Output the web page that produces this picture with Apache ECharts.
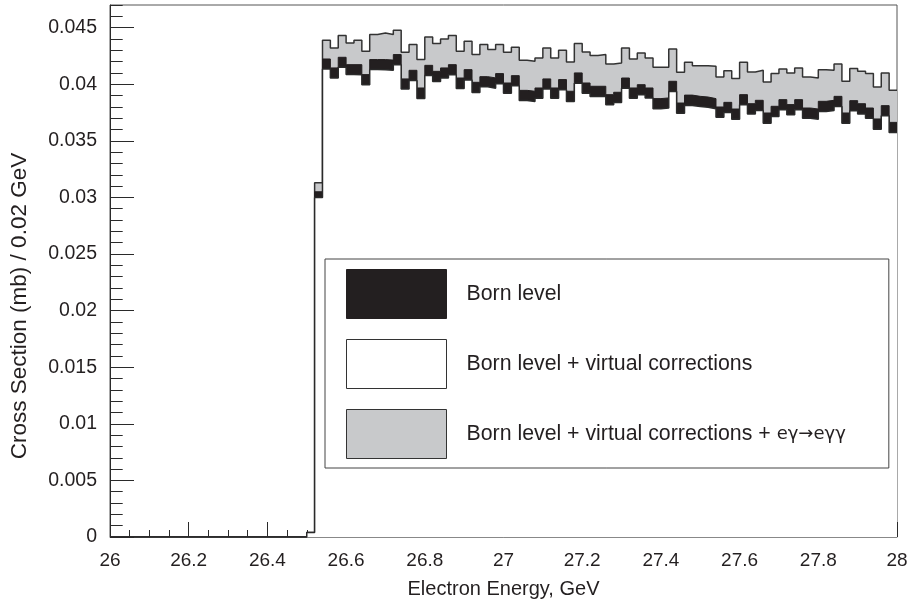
<!DOCTYPE html>
<html>
<head>
<meta charset="utf-8">
<script src="https://cdn.jsdelivr.net/npm/echarts@6/dist/echarts.min.js"></script>
<style>
html,body{margin:0;padding:0;background:#fff;}
#chart{width:909px;height:605px;}
</style>
</head>
<body>
<div id="chart"></div>
<script>
// ---- data ----
const binStart = 26.0;
const binWidth = 0.02;
const binEnd = 28.0;
const xTickLabels = ['26', '26.2', '26.4', '26.6', '26.8', '27', '27.2', '27.4', '27.6', '27.8', '28'];
const yTickLabels = ['0', '0.005', '0.01', '0.015', '0.02', '0.025', '0.03', '0.035', '0.04', '0.045'];
const seriesNames = ['Born level', 'Born level + virtual corrections', 'Born level + virtual corrections + eγ→eγγ'];

// Born level + virtual corrections + e gamma -> e gamma gamma (grey)
const bornVirtEgg = [
  0,0,0,0,0,0,0,0,0,0, 0,0,0,0,0,0,0,0,0,0, 0,0,0,0,0,
  0.0004, 0.0313,
  0.04388, 0.04321, 0.04430, 0.04365, 0.04388, 0.04291, 0.04439, 0.04453, 0.04439, 0.04477,
  0.04282, 0.04350, 0.04218, 0.04418, 0.04359, 0.04400, 0.04430, 0.04291, 0.04380, 0.04262,
  0.04350, 0.04306, 0.04350, 0.04282, 0.04327, 0.04212, 0.04203, 0.04232, 0.04321, 0.04232,
  0.04300, 0.04197, 0.04359, 0.04285, 0.04253, 0.04262, 0.04179, 0.04188, 0.04321, 0.04223,
  0.04276, 0.04232, 0.04150, 0.04150, 0.04312, 0.04106, 0.04194, 0.04164, 0.04164, 0.04159,
  0.04064, 0.04120, 0.04050, 0.04194, 0.04109, 0.04123, 0.04020, 0.04094, 0.04135, 0.04100,
  0.04144, 0.04064, 0.04055, 0.04129, 0.04123, 0.04179, 0.04026, 0.04138, 0.04114, 0.04094,
  0.03976, 0.04100, 0.03946
];
// Born level (black)
const born = [
  0,0,0,0,0,0,0,0,0,0, 0,0,0,0,0,0,0,0,0,0, 0,0,0,0,0,
  0.0004, 0.0305,
  0.04223, 0.04144, 0.04238, 0.04173, 0.04173, 0.04085, 0.04218, 0.04218, 0.04213, 0.04262,
  0.04047, 0.04123, 0.03967, 0.04167, 0.04114, 0.04144, 0.04173, 0.04055, 0.04129, 0.04017,
  0.04067, 0.04056, 0.04094, 0.04011, 0.04076, 0.03946, 0.03938, 0.03967, 0.04047, 0.03967,
  0.04041, 0.03938, 0.04100, 0.04011, 0.03982, 0.03982, 0.03908, 0.03929, 0.04055, 0.03967,
  0.03996, 0.03967, 0.03873, 0.03879, 0.04026, 0.03834, 0.03904, 0.03893, 0.03887, 0.03873,
  0.03799, 0.03840, 0.03781, 0.03908, 0.03828, 0.03858, 0.03746, 0.03805, 0.03864, 0.03820,
  0.03864, 0.03790, 0.03781, 0.03849, 0.03858, 0.03893, 0.03746, 0.03855, 0.03828, 0.03790,
  0.03693, 0.03811, 0.03663
];
// Born level + virtual corrections (white)
const bornVirt = [
  0,0,0,0,0,0,0,0,0,0, 0,0,0,0,0,0,0,0,0,0, 0,0,0,0,0,
  0.0004, 0.0300,
  0.04135, 0.04055, 0.04150, 0.04085, 0.04084, 0.03995, 0.04130, 0.04128, 0.04124, 0.04172,
  0.03957, 0.04033, 0.03874, 0.04077, 0.04024, 0.04055, 0.04083, 0.03963, 0.04038, 0.03926,
  0.03978, 0.03965, 0.04005, 0.03920, 0.03986, 0.03856, 0.03848, 0.03877, 0.03957, 0.03876,
  0.03951, 0.03848, 0.04009, 0.03920, 0.03892, 0.03893, 0.03818, 0.03839, 0.03965, 0.03877,
  0.03906, 0.03878, 0.03783, 0.03789, 0.03936, 0.03743, 0.03813, 0.03803, 0.03797, 0.03783,
  0.03709, 0.03750, 0.03691, 0.03818, 0.03738, 0.03768, 0.03656, 0.03715, 0.03774, 0.03730,
  0.03774, 0.03700, 0.03691, 0.03759, 0.03768, 0.03803, 0.03656, 0.03765, 0.03738, 0.03700,
  0.03603, 0.03721, 0.03573
];

// histogram -> step points (left edges + closing right edge)
function histPoints(vals) {
  const pts = vals.map((v, i) => [+(binStart + i * binWidth).toFixed(2), v]);
  pts.push([binEnd, vals[vals.length - 1]]);
  return pts;
}

const FONT = '"Liberation Sans", Arial, Helvetica, sans-serif';
const TXT = '#231f20';
const DARK = '#2a2a2a';

const chart = echarts.init(document.getElementById('chart'), null, { renderer: 'canvas' });

const option = {
  animation: false,
  backgroundColor: '#ffffff',
  textStyle: { fontFamily: FONT },
  grid: {
    left: 110, right: 12, top: 5, bottom: 68,
    show: true, borderColor: '#555', borderWidth: 1,
    containLabel: false, outerBoundsMode: 'none'
  },
  xAxis: [{
    type: 'value', min: binEnd - 2, max: binEnd, interval: 0.2,
    axisLine: { show: true, onZero: false, lineStyle: { color: '#888', width: 1 } },
    axisTick: { show: true, inside: true, length: 15, lineStyle: { color: DARK, width: 1 } },
    minorTick: { show: true, splitNumber: 4, length: 7, lineStyle: { color: DARK, width: 1 } },
    splitLine: { show: false },
    minorSplitLine: { show: false },
    axisLabel: {
      show: true, margin: 14, color: TXT, fontSize: 19, fontFamily: FONT,
      formatter: function (v) {
        const i = Math.round((v - 26) / 0.2);
        return xTickLabels[i] !== undefined ? xTickLabels[i] : '';
      }
    },
    name: 'Electron Energy, GeV',
    nameLocation: 'middle', nameGap: 42,
    nameTextStyle: { fontSize: 20, color: TXT, fontFamily: FONT }
  }],
  yAxis: [{
    type: 'value', min: 0, max: 0.047, interval: 0.005,
    axisLine: { show: true, onZero: false, lineStyle: { color: DARK, width: 1 } },
    axisTick: { show: true, inside: true, length: 24, lineStyle: { color: DARK, width: 1 } },
    splitLine: { show: false },
    axisLabel: {
      show: true, margin: 13, color: TXT, fontSize: 19.5, fontFamily: FONT,
      showMaxLabel: false,
      formatter: function (v) {
        const i = Math.round(v / 0.005);
        if (Math.abs(v - i * 0.005) > 1e-9) return '';
        return yTickLabels[i] !== undefined ? yTickLabels[i] : '';
      }
    }
  }, {
    type: 'value', min: 0, max: 0.047, interval: 0.001, position: 'left',
    axisLine: { show: false },
    axisTick: { show: true, inside: true, length: 12.7, lineStyle: { color: DARK, width: 1 } },
    axisLabel: { show: false },
    splitLine: { show: false }
  }],
  legend: {
    orient: 'vertical',
    left: 325, top: 259,
    z: 20, zlevel: 0,
    padding: [10, 43, 9, 21],
    itemWidth: 100, itemHeight: 49, itemGap: 20,
    borderColor: '#444', borderWidth: 1,
    backgroundColor: '#fff',
    selectedMode: false,
    icon: 'rect',
    textStyle: {
      fontSize: 21.3, color: TXT, fontFamily: FONT, padding: [0, 0, 0, 15],
      rich: { s: { fontSize: 18, color: TXT, fontFamily: '"DejaVu Sans", ' + FONT, verticalAlign: 'bottom', padding: [0, 0, 1, 0] } }
    },
    formatter: function (name) {
      if (name === seriesNames[2]) return 'Born level + virtual corrections + {s|eγ→eγγ}';
      return name;
    },
    data: [
      { name: seriesNames[0], icon: 'rect', itemStyle: { color: '#231f20', borderColor: '#231f20', borderWidth: 1 } },
      { name: seriesNames[1], icon: 'rect', itemStyle: { color: '#ffffff', borderColor: '#333', borderWidth: 1 } },
      { name: seriesNames[2], icon: 'rect', itemStyle: { color: '#c8c9cb', borderColor: '#333', borderWidth: 1 } }
    ]
  },
  graphic: [{
    type: 'text',
    x: 20, y: 306,
    rotation: Math.PI / 2,
    style: {
      text: 'Cross Section (mb) / 0.02 GeV',
      font: '22.5px ' + FONT,
      fill: TXT,
      align: 'center',
      verticalAlign: 'middle'
    }
  }],
  series: [{
    name: seriesNames[2],
    type: 'line', step: 'end', z: 2,
    symbol: 'none', showSymbol: false,
    xAxisIndex: 0, yAxisIndex: 0,
    data: histPoints(bornVirtEgg),
    lineStyle: { color: '#333', width: 1.5 },
    itemStyle: { color: '#c8c9cb' },
    areaStyle: { color: '#c8c9cb', opacity: 1 }
  }, {
    name: seriesNames[0],
    type: 'line', step: 'end', z: 3,
    symbol: 'none', showSymbol: false,
    xAxisIndex: 0, yAxisIndex: 0,
    data: histPoints(born),
    lineStyle: { color: '#231f20', width: 1 },
    itemStyle: { color: '#231f20' },
    areaStyle: { color: '#231f20', opacity: 1 }
  }, {
    name: seriesNames[1],
    type: 'line', step: 'end', z: 4,
    symbol: 'none', showSymbol: false,
    xAxisIndex: 0, yAxisIndex: 0,
    data: histPoints(bornVirt),
    lineStyle: { color: '#2a2a2a', width: 1.5 },
    itemStyle: { color: '#ffffff' },
    areaStyle: { color: '#ffffff', opacity: 1 }
  }]
};

chart.setOption(option);
</script>
</body>
</html>
